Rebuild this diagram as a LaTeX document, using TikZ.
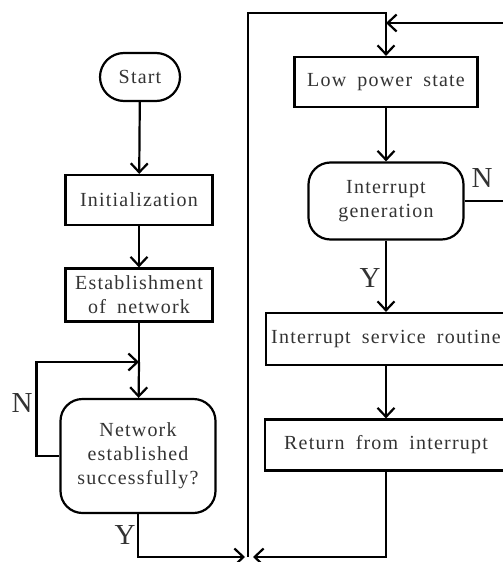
\documentclass[tikz,border=0pt]{standalone}
\usepackage{fontspec}
\setmainfont{Liberation Serif}[LetterSpace=6, WordSpace=1.8]
\usetikzlibrary{arrows.meta}

\tikzset{
  box/.style={draw, line width=2.2pt, align=center, inner sep=0pt,
              font=\fontsize{20}{24}\selectfont, text=black!80},
  procbox/.style ={box, minimum height=50pt},
  roundbox/.style={box, rounded corners=22pt},
  startbox/.style={box, rounded corners=24pt, minimum width=80pt, minimum height=48pt},
  arr/.style={-{Straight Barb[length=9pt,width=17pt]}, line width=2.2pt},
  wire/.style={line width=2.2pt},
  yn/.style={font=\fontsize{29}{32}\selectfont, text=black!80, inner sep=0pt},
}

\begin{document}
\begin{tikzpicture}[x=1pt, y=-1pt]
\useasboundingbox (0,0) rectangle (503,562);
\clip (0,0) rectangle (503,562);

% -- Left column: start-up -------------------------------------------------
\node[startbox] (start) at (140,77) {Start};
\node[procbox, minimum width=147pt] (init) at (139,200) {Initialization};
\node[procbox, minimum width=147pt, minimum height=53pt] (estab) at (139,295)
  {Establishment\\of network};
\node[roundbox, minimum width=155pt, minimum height=114pt] (netok) at (138,456)
  {Network\\established\\successfully?};

% -- Right column: interrupt loop ------------------------------------------
\node[procbox, minimum width=183pt] (lowpow) at (386,82) {Low power state};
\node[roundbox, minimum width=155pt, minimum height=77pt] (intgen) at (386,201)
  {Interrupt\\generation};
\node[procbox, minimum width=240pt, minimum height=52pt] (isr) at (386,339)
  {Interrupt service routine};
\node[procbox, minimum width=242pt, minimum height=51pt] (ret) at (386,445)
  {Return from interrupt};

% -- Branch labels ---------------------------------------------------------
\node[yn] (nleft)  at (22,403)  {N};
\node[yn] (yleft)  at (125,535) {Y};
\node[yn] (nright) at (482,178) {N};
\node[yn] (yright) at (370,278) {Y};

% -- Junctions -------------------------------------------------------------
\coordinate (merge)    at (139,362);
\coordinate (join)     at (248,557);
\coordinate (topleft)  at (248,13);
\coordinate (rightout) at (520,23);

% -- Arrows ----------------------------------------------------------------
\draw[arr]  (start) -- (init);
\draw[arr]  (init) -- (estab);
\draw[wire] (estab) -- (merge);
\draw[arr]  (merge) -- (netok);
\draw[arr]  (netok.west) -- ++(-23,0) |- (merge);
\draw[arr]  (netok.south) |- ([xshift=-3pt]join);

\draw[arr]  (join) -- (topleft) -| (lowpow.north);
\draw[arr]  (lowpow) -- (intgen);
\draw[arr]  (intgen.east) -| (rightout) -- (lowpow.north |- rightout);
\draw[arr]  (intgen) -- (isr);
\draw[arr]  (isr) -- (ret);
\draw[arr]  (ret.south) |- ([xshift=5pt]join);

\end{tikzpicture}
\end{document}
